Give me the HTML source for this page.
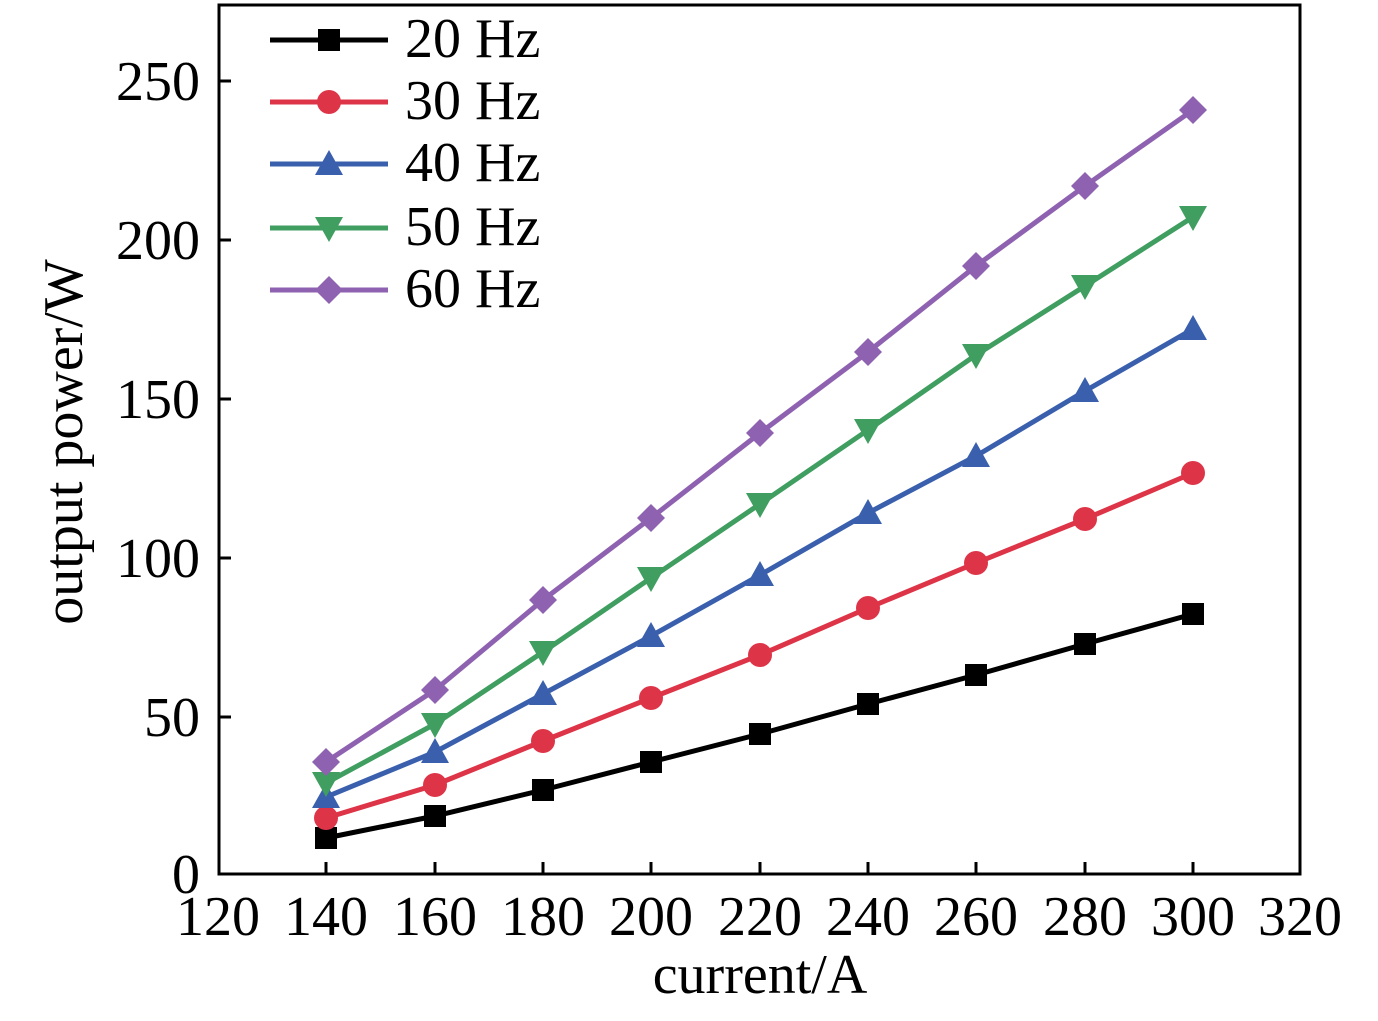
<!DOCTYPE html><html><head><style>body{margin:0;background:#fff}</style></head><body>
<svg width="1378" height="1016" xmlns="http://www.w3.org/2000/svg" font-family="Liberation Serif, serif">
<rect x="219" y="5" width="1081" height="869" fill="none" stroke="#000" stroke-width="3"/>
<g stroke="#000" stroke-width="3">
<line x1="219" y1="717" x2="231" y2="717"/><line x1="219" y1="558" x2="231" y2="558"/><line x1="219" y1="399" x2="231" y2="399"/><line x1="219" y1="240" x2="231" y2="240"/><line x1="219" y1="81" x2="231" y2="81"/>
<line x1="326" y1="874" x2="326" y2="862"/><line x1="435" y1="874" x2="435" y2="862"/><line x1="543" y1="874" x2="543" y2="862"/><line x1="651" y1="874" x2="651" y2="862"/><line x1="760" y1="874" x2="760" y2="862"/><line x1="868" y1="874" x2="868" y2="862"/><line x1="976" y1="874" x2="976" y2="862"/><line x1="1085" y1="874" x2="1085" y2="862"/><line x1="1193" y1="874" x2="1193" y2="862"/>
</g>
<g font-size="56" text-anchor="end">
<text x="200" y="893">0</text><text x="200" y="736">50</text><text x="200" y="577">100</text><text x="200" y="418">150</text><text x="200" y="259">200</text><text x="200" y="100">250</text></g>
<g font-size="56" text-anchor="middle">
<text x="218" y="935">120</text><text x="326" y="935">140</text><text x="435" y="935">160</text><text x="543" y="935">180</text><text x="651" y="935">200</text><text x="760" y="935">220</text><text x="868" y="935">240</text><text x="976" y="935">260</text><text x="1085" y="935">280</text><text x="1193" y="935">300</text><text x="1300" y="935">320</text>
<text x="760" y="993">current/A</text>
<text transform="translate(82,442) rotate(-90)">output power/W</text></g>
<defs>
<rect id="sq" x="-11" y="-11" width="22" height="22" fill="#000"/>
<circle id="ci" r="12" fill="#de3448"/>
<polygon id="tu" points="0,-14 14,11 -14,11" fill="#3a60ad"/>
<polygon id="td" points="0,14 14,-11 -14,-11" fill="#3f9e60"/>
<polygon id="di" points="0,-14 14,0 0,14 -14,0" fill="#8e62b0"/>
</defs>
<g fill="none" stroke-width="5">
<polyline stroke="#000" points="326,838 435,816 543,790 651,762 760,734 868,704 976,675 1085,644 1193,614"/>
<polyline stroke="#de3448" points="326,818 435,785 543,741 651,698 760,655 868,608 976,563 1085,519 1193,473"/>
<polyline stroke="#3a60ad" points="326,797 435,752 543,694 651,636 760,575 868,513 976,456 1085,391 1193,329"/>
<polyline stroke="#3f9e60" points="326,783 435,724 543,652 651,578 760,504 868,430 976,355 1085,286 1193,217"/>
<polyline stroke="#8e62b0" points="326,762 435,690 543,600 651,518 760,433 868,352 976,266 1085,186 1193,110"/>
<line stroke="#000" x1="270" y1="40" x2="388" y2="40"/>
<line stroke="#de3448" x1="270" y1="102" x2="388" y2="102"/>
<line stroke="#3a60ad" x1="270" y1="164" x2="388" y2="164"/>
<line stroke="#3f9e60" x1="270" y1="228" x2="388" y2="228"/>
<line stroke="#8e62b0" x1="270" y1="290" x2="388" y2="290"/>
</g>
<g>
<use href="#sq" x="326" y="838"/><use href="#sq" x="435" y="816"/><use href="#sq" x="543" y="790"/><use href="#sq" x="651" y="762"/><use href="#sq" x="760" y="734"/><use href="#sq" x="868" y="704"/><use href="#sq" x="976" y="675"/><use href="#sq" x="1085" y="644"/><use href="#sq" x="1193" y="614"/><use href="#sq" x="329" y="40"/>
<use href="#ci" x="326" y="818"/><use href="#ci" x="435" y="785"/><use href="#ci" x="543" y="741"/><use href="#ci" x="651" y="698"/><use href="#ci" x="760" y="655"/><use href="#ci" x="868" y="608"/><use href="#ci" x="976" y="563"/><use href="#ci" x="1085" y="519"/><use href="#ci" x="1193" y="473"/><use href="#ci" x="329" y="102"/>
<use href="#tu" x="326" y="797"/><use href="#tu" x="435" y="752"/><use href="#tu" x="543" y="694"/><use href="#tu" x="651" y="636"/><use href="#tu" x="760" y="575"/><use href="#tu" x="868" y="513"/><use href="#tu" x="976" y="456"/><use href="#tu" x="1085" y="391"/><use href="#tu" x="1193" y="329"/><use href="#tu" x="329" y="164"/>
<use href="#td" x="326" y="783"/><use href="#td" x="435" y="724"/><use href="#td" x="543" y="652"/><use href="#td" x="651" y="578"/><use href="#td" x="760" y="504"/><use href="#td" x="868" y="430"/><use href="#td" x="976" y="355"/><use href="#td" x="1085" y="286"/><use href="#td" x="1193" y="217"/><use href="#td" x="329" y="228"/>
<use href="#di" x="326" y="762"/><use href="#di" x="435" y="690"/><use href="#di" x="543" y="600"/><use href="#di" x="651" y="518"/><use href="#di" x="760" y="433"/><use href="#di" x="868" y="352"/><use href="#di" x="976" y="266"/><use href="#di" x="1085" y="186"/><use href="#di" x="1193" y="110"/><use href="#di" x="329" y="290"/>
</g>
<g font-size="56">
<text x="405" y="57">20 Hz</text><text x="405" y="119">30 Hz</text><text x="405" y="181">40 Hz</text><text x="405" y="245">50 Hz</text><text x="405" y="307">60 Hz</text></g>
</svg></body></html>
